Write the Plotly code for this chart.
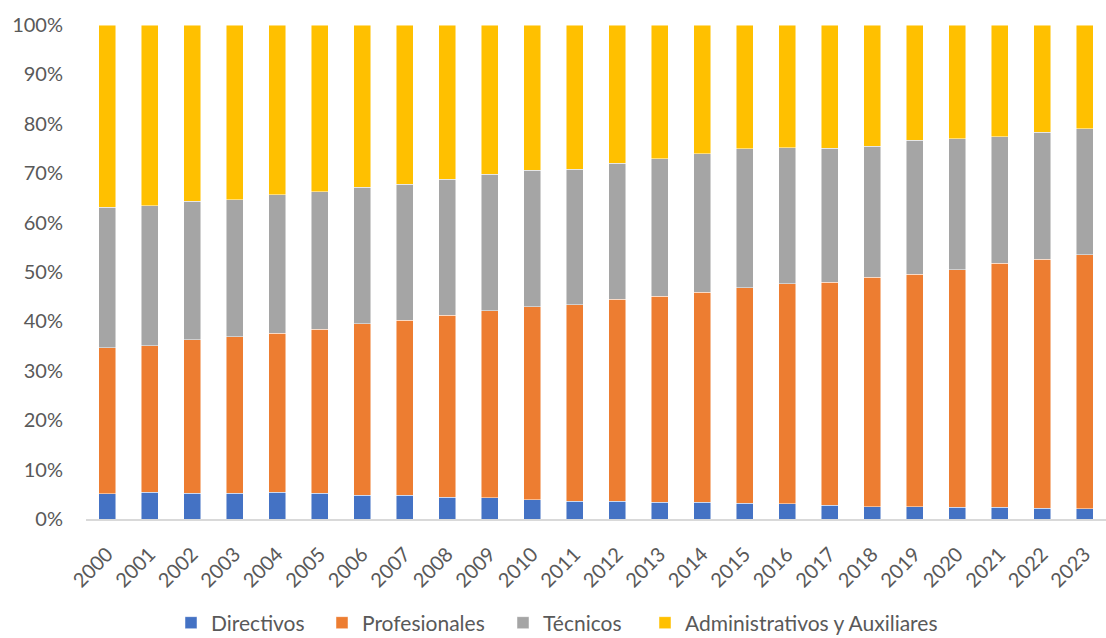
import plotly.graph_objects as go

years = [str(y) for y in range(2000, 2024)]

# cumulative tops (%)
directivos = [5.1, 5.4, 5.2, 5.2, 5.4, 5.2, 4.8, 4.8, 4.4, 4.3, 3.9, 3.6,
              3.6, 3.4, 3.4, 3.2, 3.1, 2.8, 2.5, 2.5, 2.4, 2.4, 2.2, 2.1]
prof_cum = [34.7, 35.1, 36.3, 36.9, 37.6, 38.4, 39.5, 40.2, 41.2, 42.2, 43.0, 43.4,
            44.5, 45.1, 45.9, 46.8, 47.6, 47.9, 48.9, 49.5, 50.5, 51.8, 52.6, 53.5]
tec_cum = [63.1, 63.4, 64.3, 64.6, 65.6, 66.2, 67.2, 67.8, 68.8, 69.8, 70.6, 70.8,
           72.0, 72.9, 73.9, 74.9, 75.2, 75.1, 75.5, 76.7, 77.0, 77.4, 78.3, 79.0]

profesionales = [round(p - d, 2) for p, d in zip(prof_cum, directivos)]
tecnicos = [round(t - p, 2) for t, p in zip(tec_cum, prof_cum)]
administrativos = [round(100 - t, 2) for t in tec_cum]

names = ["Directivos", "Profesionales", "Técnicos", "Administrativos y Auxiliares"]
values = [directivos, profesionales, tecnicos, administrativos]
colors = ["#4472C4", "#ED7D31", "#A5A5A5", "#FFC000"]
legend_left_px = [171, 322, 503, 645]  # left edge of each legend box (px)

tick_font = dict(family="Lato, 'Open Sans', sans-serif", size=20, color="#595959")
leg_font = dict(family="Lato, 'Open Sans', sans-serif", size=21, color="#595959")

fig = go.Figure()
legend_layouts = {}
for i, (name, vals, color) in enumerate(zip(names, values, colors)):
    lid = "legend" if i == 0 else f"legend{i + 1}"
    fig.add_trace(go.Bar(
        x=years, y=[v / 100 for v in vals], name=name, legend=lid,
        marker=dict(color=color, line=dict(color="rgba(255,255,255,0.6)", width=0.8)),
    ))
    legend_layouts[lid] = dict(
        orientation="h", xref="container", yref="container",
        x=legend_left_px[i] / 1106, xanchor="left",
        y=(638 - 623) / 638, yanchor="middle",
        font=leg_font, itemwidth=30, bgcolor="rgba(0,0,0,0)",
    )

fig.update_layout(
    barmode="stack",
    bargap=0.6,
    width=1106, height=638,
    margin=dict(l=86, r=0, t=25, b=119, autoexpand=False),
    plot_bgcolor="white", paper_bgcolor="white",
    font=tick_font,
    showlegend=True,
    xaxis=dict(tickangle=-45, showline=True, linecolor="#D9D9D9", linewidth=1.5,
               ticks="", tickfont=tick_font, ticklabelstandoff=14),
    yaxis=dict(range=[0, 1], tickformat=".0%", dtick=0.1, showgrid=False,
               zeroline=False, showline=False, tickfont=tick_font, ticks="",
               ticklabelstandoff=22),
    **legend_layouts,
)

fig.write_html("out.html")
